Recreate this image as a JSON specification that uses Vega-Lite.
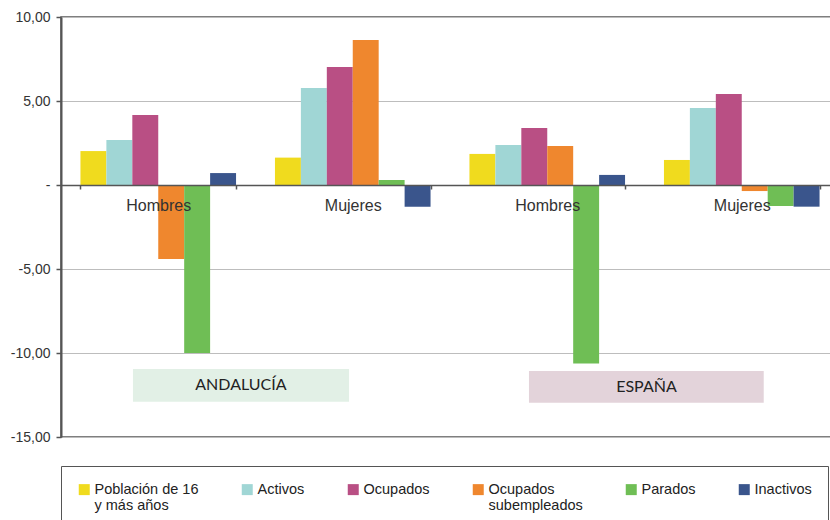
{
  "$schema": "https://vega.github.io/schema/vega-lite/v6.json",
  "width": 778,
  "height": 420,
  "autosize": {"type": "none"},
  "padding": {"left": 61, "top": 17, "right": 0, "bottom": 100},
  "background": "white",
  "config": {
    "view": {"stroke": "#555", "strokeWidth": 1.5},
    "font": "Liberation Sans"
  },
  "layer": [
    {
      "data": {
        "values": [
          {"zona": "ANDALUCÍA", "x1": 0.37, "x2": 1.481, "xm": 0.925, "y1": -10.95, "y2": -12.9, "ym": -11.93},
          {"zona": "ESPAÑA", "x1": 2.406, "x2": 3.613, "xm": 3.01, "y1": -11.07, "y2": -12.96, "ym": -12.0}
        ]
      },
      "layer": [
        {
          "mark": {"type": "rect"},
          "encoding": {
            "x": {"field": "x1", "type": "quantitative", "scale": {"domain": [0, 4], "nice": false, "zero": false}, "axis": null},
            "x2": {"field": "x2"},
            "y": {"field": "y1", "type": "quantitative", "axis": {"title": null}},
            "y2": {"field": "y2"},
            "fill": {"field": "zona", "type": "nominal", "scale": {"domain": ["ANDALUCÍA", "ESPAÑA"], "range": ["#e2f0e6", "#e3d3da"]}, "legend": null}
          }
        },
        {
          "mark": {"type": "text", "font": "Lato", "fontSize": 16, "color": "#222", "baseline": "middle", "align": "center"},
          "encoding": {
            "x": {"field": "xm", "type": "quantitative", "scale": {"domain": [0, 4], "nice": false, "zero": false}, "axis": null},
            "y": {"field": "ym", "type": "quantitative", "axis": {"title": null}},
            "text": {"field": "zona"}
          }
        }
      ]
    },
    {
      "data": {
        "values": [
          {"grupo": "Andalucía|Hombres", "serie": "Población de 16 y más años", "valor": 2.02},
          {"grupo": "Andalucía|Hombres", "serie": "Activos", "valor": 2.68},
          {"grupo": "Andalucía|Hombres", "serie": "Ocupados", "valor": 4.17},
          {"grupo": "Andalucía|Hombres", "serie": "Ocupados subempleados", "valor": -4.4},
          {"grupo": "Andalucía|Hombres", "serie": "Parados", "valor": -10.0},
          {"grupo": "Andalucía|Hombres", "serie": "Inactivos", "valor": 0.71},
          {"grupo": "Andalucía|Mujeres", "serie": "Población de 16 y más años", "valor": 1.63},
          {"grupo": "Andalucía|Mujeres", "serie": "Activos", "valor": 5.77},
          {"grupo": "Andalucía|Mujeres", "serie": "Ocupados", "valor": 7.02},
          {"grupo": "Andalucía|Mujeres", "serie": "Ocupados subempleados", "valor": 8.63},
          {"grupo": "Andalucía|Mujeres", "serie": "Parados", "valor": 0.3},
          {"grupo": "Andalucía|Mujeres", "serie": "Inactivos", "valor": -1.29},
          {"grupo": "España|Hombres", "serie": "Población de 16 y más años", "valor": 1.85},
          {"grupo": "España|Hombres", "serie": "Activos", "valor": 2.38},
          {"grupo": "España|Hombres", "serie": "Ocupados", "valor": 3.39},
          {"grupo": "España|Hombres", "serie": "Ocupados subempleados", "valor": 2.32},
          {"grupo": "España|Hombres", "serie": "Parados", "valor": -10.63},
          {"grupo": "España|Hombres", "serie": "Inactivos", "valor": 0.6},
          {"grupo": "España|Mujeres", "serie": "Población de 16 y más años", "valor": 1.49},
          {"grupo": "España|Mujeres", "serie": "Activos", "valor": 4.58},
          {"grupo": "España|Mujeres", "serie": "Ocupados", "valor": 5.42},
          {"grupo": "España|Mujeres", "serie": "Ocupados subempleados", "valor": -0.36},
          {"grupo": "España|Mujeres", "serie": "Parados", "valor": -1.25},
          {"grupo": "España|Mujeres", "serie": "Inactivos", "valor": -1.29}
        ]
      },
      "mark": {"type": "bar"},
      "encoding": {
        "x": {
          "field": "grupo", "type": "nominal", "sort": null,
          "scale": {"paddingInner": 0.2, "paddingOuter": 0.1},
          "axis": {
            "title": null, "offset": -252, "zindex": 1,
            "labelExpr": "split(datum.label, '|')[1]",
            "labelAngle": 0, "labelFontSize": 16, "labelColor": "#333", "labelPadding": 8,
            "tickBand": "extent", "tickSize": 4, "tickColor": "#555", "tickWidth": 1.5,
            "domainColor": "#555", "domainWidth": 1.5, "grid": false
          }
        },
        "xOffset": {
          "field": "serie", "type": "nominal",
          "sort": ["Población de 16 y más años", "Activos", "Ocupados", "Ocupados subempleados", "Parados", "Inactivos"],
          "scale": {"paddingInner": 0, "paddingOuter": 0}
        },
        "y": {
          "field": "valor", "type": "quantitative",
          "scale": {"domain": [-15, 10], "nice": false, "zero": false},
          "axis": {
            "title": null, "values": [-15, -10, -5, 0, 5, 10],
            "labelExpr": "datum.value == 0 ? '-' : replace(replace(format(datum.value, '.2f'), '.', ','), '\u2212', '-')",
            "labelFontSize": 14, "labelColor": "#333", "labelPadding": 6,
            "tickSize": 5, "tickColor": "#555", "tickWidth": 1.5,
            "domainColor": "#555", "domainWidth": 2,
            "grid": true, "gridColor": "#bdbdbd", "gridWidth": 1.2
          }
        },
        "color": {
          "field": "serie", "type": "nominal",
          "scale": {
            "domain": ["Población de 16 y más años", "Activos", "Ocupados", "Ocupados subempleados", "Parados", "Inactivos"],
            "range": ["#f0db1e", "#a0d6d5", "#b94f84", "#ef872e", "#6fbe55", "#3a558c"]
          },
          "legend": {
            "orient": "none", "legendX": 0, "legendY": 449,
            "direction": "horizontal", "title": null,
            "symbolType": "square", "symbolSize": 121, "symbolStrokeWidth": 0,
            "labelFontSize": 14.5, "labelColor": "#222", "labelFont": "Liberation Sans",
            "labelBaseline": "middle", "labelOffset": 3, "labelLimit": 300,
            "labelExpr": "datum.label == 'Población de 16 y más años' ? ['Población de 16', 'y más años'] : datum.label == 'Ocupados subempleados' ? ['Ocupados', 'subempleados'] : datum.label == 'Inactivos' ? ['Inactivos      ', ''] : [datum.label, '']",
            "columnPadding": 41, "padding": 16,
            "strokeColor": "#555", "fillColor": "white"
          }
        }
      }
    }
  ],
  "resolve": {"scale": {"x": "independent"}}
}
